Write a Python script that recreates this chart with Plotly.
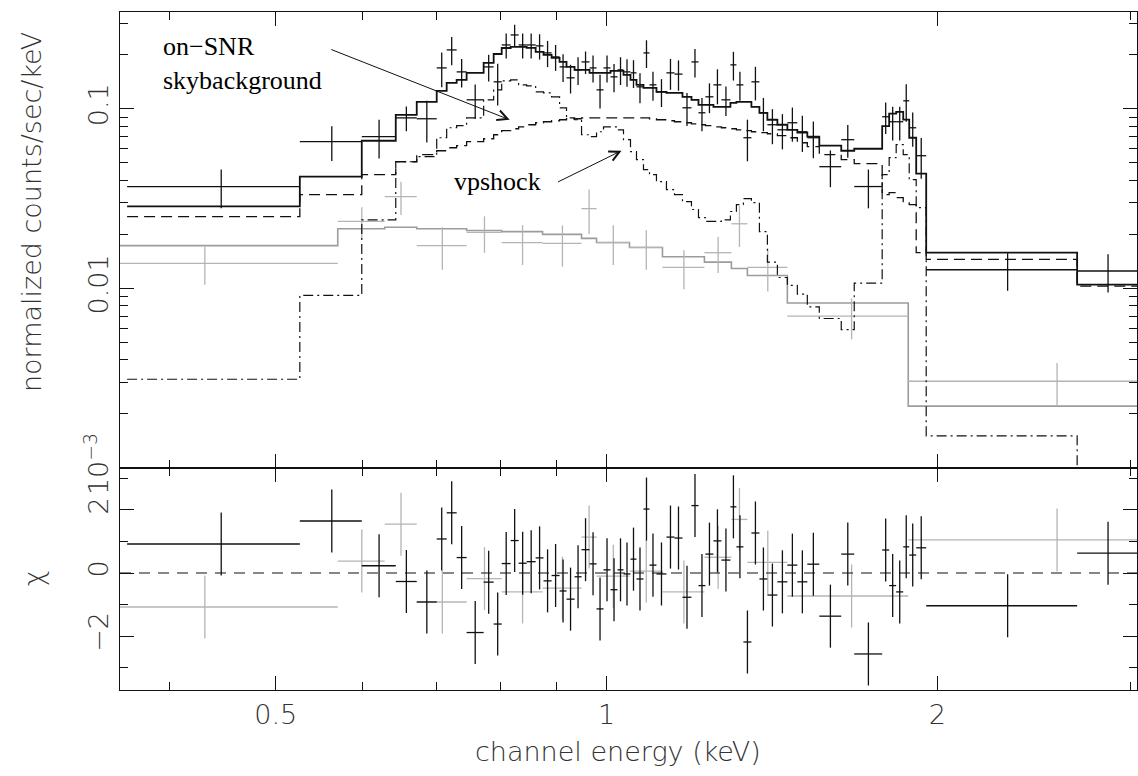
import plotly.graph_objects as go
import numpy as np

# ---------------- data ----------------
# on-SNR spectrum (black): bin edges in keV
black_edges = [0.3662, 0.5259, 0.5988, 0.6430, 0.6719, 0.7006, 0.7154, 0.7305, 0.7459, 0.7730,
               0.7894, 0.8028, 0.8180, 0.8318, 0.8459, 0.8620, 0.8763, 0.8913, 0.9063, 0.9196,
               0.9352, 0.9490, 0.9650, 0.9793, 0.9937, 1.0084, 1.0233, 1.0362, 1.0515, 1.0648,
               1.0805, 1.0942, 1.1103, 1.1338, 1.1530, 1.1725, 1.1948, 1.2125, 1.2303, 1.2511,
               1.2722, 1.2964, 1.3128, 1.3322, 1.3547, 1.3776, 1.4008, 1.4305, 1.4607, 1.4916,
               1.5231, 1.5618, 1.6353, 1.6804, 1.7817, 1.8080, 1.8348, 1.8621, 1.8856, 1.9134,
               1.9539, 2.6808, 3.0395]
black_counts = [0.0369, 0.0656, 0.0699, 0.0890, 0.0880, 0.1689, 0.2127, 0.1605, 0.1122, 0.1711,
                0.1413, 0.2267, 0.2577, 0.2267, 0.2267, 0.2240, 0.2047, 0.1945, 0.1711, 0.1487,
                0.1647, 0.1824, 0.1689, 0.1275, 0.1689, 0.1506, 0.1647, 0.1605, 0.1585, 0.1325,
                0.2047, 0.1359, 0.1243, 0.1585, 0.1560, 0.1013, 0.1824, 0.0950, 0.1166, 0.1359,
                0.1122, 0.1756, 0.1359, 0.0690, 0.1413, 0.0950, 0.0815, 0.0764, 0.0836, 0.0745,
                0.0690, 0.0476, 0.0673, 0.0369, 0.0903, 0.0847, 0.0847, 0.1108, 0.0784, 0.0548,
                0.0127, 0.0125]
black_err = [0.009, 0.0144, 0.017, 0.014, 0.023, 0.037, 0.038, 0.029, 0.0245, 0.029,
             0.037, 0.036, 0.036, 0.036, 0.036, 0.036, 0.034, 0.032, 0.030, 0.027,
             0.029, 0.026, 0.029, 0.027, 0.029, 0.027, 0.029, 0.028, 0.028, 0.025,
             0.036, 0.025, 0.022, 0.031, 0.030, 0.021, 0.033, 0.020, 0.022, 0.030,
             0.021, 0.032, 0.025, 0.018, 0.030, 0.020, 0.018, 0.017, 0.018, 0.017,
             0.016, 0.011, 0.014, 0.009, 0.018, 0.018, 0.018, 0.026, 0.017, 0.014,
             0.003, 0.003]
model_total = [0.0286, 0.0419, 0.0664, 0.0926, 0.1094, 0.1259, 0.1395, 0.1449, 0.1585, 0.1800,
               0.2019, 0.2180, 0.2211, 0.2211, 0.2183, 0.2073, 0.1995, 0.1922, 0.1824, 0.1711,
               0.1647, 0.1647, 0.1585, 0.1585, 0.1585, 0.1626, 0.1626, 0.1545, 0.1449, 0.1359,
               0.1308, 0.1308, 0.1243, 0.1227, 0.1227, 0.1166, 0.1122, 0.1052, 0.1052, 0.1026,
               0.1026, 0.1080, 0.1094, 0.1094, 0.1026, 0.0950, 0.0869, 0.0815, 0.0764, 0.0736,
               0.0699, 0.0623, 0.0584, 0.0599, 0.0800, 0.0940, 0.0962, 0.0870, 0.0690, 0.0436,
               0.0158, 0.0105]
model_skybkg = [0.0251, 0.0333, 0.0430, 0.0507, 0.0555, 0.0584, 0.0607, 0.0623, 0.0656, 0.0681,
                0.0717, 0.0755, 0.0774, 0.0794, 0.0815, 0.0836, 0.0847, 0.0858, 0.0869, 0.0880,
                0.0880, 0.0891, 0.0891, 0.0891, 0.0891, 0.0891, 0.0891, 0.0891, 0.0891, 0.0891,
                0.0891, 0.0880, 0.0869, 0.0858, 0.0847, 0.0836, 0.0825, 0.0815, 0.0805, 0.0794,
                0.0784, 0.0774, 0.0764, 0.0755, 0.0745, 0.0736, 0.0726, 0.0708, 0.0690, 0.0647,
                0.0615, 0.0555, 0.0521, 0.0495, 0.0333, 0.0341, 0.0320, 0.0304, 0.0293, 0.0158,
                0.0145, 0.0103]
model_vpshock = [0.00312, 0.00914, 0.0241, 0.0507, 0.0541, 0.0690, 0.0784, 0.0805, 0.0891, 0.1122,
                 0.1275, 0.1430, 0.1449, 0.1359, 0.1342, 0.1243, 0.1227, 0.1166, 0.1013, 0.0891,
                 0.0869, 0.0717, 0.0699, 0.0745, 0.0794, 0.0794, 0.0764, 0.0673, 0.0577, 0.0521,
                 0.0459, 0.0430, 0.0393, 0.0355, 0.0333, 0.0304, 0.0275, 0.0248, 0.0236, 0.0236,
                 0.0241, 0.0268, 0.0293, 0.0316, 0.0300, 0.0207, 0.0140, 0.0115, 0.0104, 0.0093,
                 0.0079, 0.0068, 0.0059, 0.0107, 0.0430, 0.0534, 0.0631, 0.0555, 0.0403, 0.0282,
                 0.00151, 0.0008]
black_chi = [0.92, 1.65, 0.23, -0.27, -0.92, 1.08, 1.91, 0.49, -1.89, -0.29,
             -1.62, 0.30, 1.03, 0.31, 0.36, 0.48, -0.25, -0.08, -0.57, -0.83,
             -0.12, 0.74, 0.29, -1.14, 0.10, -0.53, 0.10, -0.03, 0.44, -0.19,
             2.03, 0.25, -0.03, 1.14, 1.11, -0.77, 2.14, -0.40, 0.60, 1.02,
             0.41, 2.10, 0.83, -2.19, 1.27, -0.19, -0.70, -0.28, 0.25, -0.28,
             0.28, -1.37, 0.60, -2.57, 0.73, -0.40, -0.60, 0.83, 0.57, 0.80,
             -1.04, 0.63]

# second spectrum (grey)
grey_edges = [0.2926, 0.5694, 0.6283, 0.6719, 0.7459, 0.8028, 0.8746, 0.9490, 0.9793, 1.0493,
              1.1244, 1.2277, 1.2991, 1.3433, 1.4607, 1.8817, 3.259]
grey_counts = [0.01377, 0.0236, 0.0324, 0.0173, 0.0205, 0.0180, 0.0178, 0.0278, 0.0180, 0.0169,
               0.0131, 0.0158, 0.0229, 0.0131, 0.0070, 0.00304]
grey_err = [0.0033, 0.0047, 0.0068, 0.0046, 0.0047, 0.0045, 0.0046, 0.0077, 0.0045, 0.0042,
            0.0032, 0.0036, 0.0059, 0.0035, 0.0018, 0.0008]
grey_model = [0.0173, 0.0215, 0.0219, 0.0215, 0.0210, 0.0207, 0.0200, 0.0190, 0.0180, 0.0169,
              0.0150, 0.0140, 0.0129, 0.0118, 0.0083, 0.00221]
grey_chi = [-1.08, 0.38, 1.55, -0.92, -0.18, -0.60, -0.48, 1.14, -0.10, 0.06,
            -0.60, 0.50, 1.70, 0.34, -0.73, 1.05]

x_ticks = [0.5, 1, 2]
x_ticklabels = ["0.5", "1", "2"]
x_minor = [0.4, 0.6, 0.7, 0.8, 0.9, 3]
y_ticks = [0.001, 0.01, 0.1]
y_ticklabels = ["10<sup>\u22123</sup>", "0.01", "0.1"]
y_minor = [0.002, 0.003, 0.004, 0.005, 0.006, 0.007, 0.008, 0.009,
           0.02, 0.03, 0.04, 0.05, 0.06, 0.07, 0.08, 0.09, 0.2, 0.3]
chi_ticks = [-2, 0, 2]
chi_ticklabels = ["\u22122", "0", "2"]
chi_minor = [-3, -1, 1, 3]

# ---------------- helpers ----------------
def centers(edges):
    e = np.array(edges)
    lo, hi = e[:-1], e[1:]
    c = (lo + hi) / 2
    return c, hi - c, c - lo

def step_xy(edges, vals):
    return list(edges), list(vals) + [vals[-1]]

BLACK = "#111111"
GREY_D = "#b4b4b4"
GREY_M = "#9c9c9c"

fig = go.Figure()

def add_data(edges, vals, errs, color, xa, ya, width=1.3):
    c, ep, em = centers(edges)
    fig.add_trace(go.Scatter(
        x=c, y=vals, mode="markers", marker=dict(size=0.1, color=color),
        error_x=dict(type="data", symmetric=False, array=ep, arrayminus=em,
                     width=0, thickness=width, color=color),
        error_y=dict(type="data", array=errs, width=0, thickness=width, color=color),
        xaxis=xa, yaxis=ya, showlegend=False, hoverinfo="skip"))

def add_step(edges, vals, color, dash, width, xa, ya):
    sx, sy = step_xy(edges, vals)
    fig.add_trace(go.Scatter(x=sx, y=sy, mode="lines", line=dict(shape="hv", color=color, dash=dash, width=width),
                             xaxis=xa, yaxis=ya, showlegend=False, hoverinfo="skip"))

# top panel: grey first
add_step(grey_edges, grey_model, GREY_M, "solid", 1.6, "x", "y")
add_data(grey_edges, grey_counts, grey_err, GREY_D, "x", "y")
add_step(black_edges, model_vpshock, BLACK, "10px,4px,2px,4px", 1.2, "x", "y")
add_step(black_edges, model_skybkg, BLACK, "11px,6px", 1.3, "x", "y")
add_step(black_edges, model_total, BLACK, "solid", 1.8, "x", "y")
add_data(black_edges, black_counts, black_err, BLACK, "x", "y")

# residuals
add_data(grey_edges, grey_chi, [1] * len(grey_chi), GREY_D, "x2", "y2")
add_data(black_edges, black_chi, [1] * len(black_chi), BLACK, "x2", "y2")
fig.add_hline(y=0, line=dict(color=BLACK, width=1.2, dash="11px,8px"), xref="x2", yref="y2")

split = 222 / 678
x_range = [-0.44273, 0.48273]
tickfont = dict(family="DejaVu Sans", size=27, color="#333333", weight=200)

common_x = dict(type="log", range=x_range, showgrid=False, zeroline=False, showline=True,
                linecolor=BLACK, linewidth=1.2, mirror="ticks", ticks="inside", ticklen=14,
                tickwidth=1.2, tickcolor=BLACK, tickvals=x_ticks, ticktext=x_ticklabels,
                minor=dict(ticks="inside", ticklen=8, tickwidth=1.2, tickcolor=BLACK, tickvals=x_minor),
                tickfont=tickfont)

fig.update_layout(
    width=1138, height=776, margin=dict(l=120, r=1, t=12, b=86),
    paper_bgcolor="white", plot_bgcolor="white",
    xaxis=dict(common_x, anchor="y", showticklabels=False),
    xaxis2=dict(common_x, anchor="y2", matches="x", showticklabels=True),
    yaxis=dict(type="log", range=[-3.0, -0.4611], domain=[split, 1], anchor="x",
               showgrid=False, zeroline=False, showline=True, linecolor=BLACK, linewidth=1.2,
               mirror="ticks", ticks="inside", ticklen=14, tickwidth=1.2, tickcolor=BLACK,
               tickvals=y_ticks, ticktext=y_ticklabels, tickangle=-90, tickfont=tickfont,
               minor=dict(ticks="inside", ticklen=8, tickwidth=1.2, tickcolor=BLACK, tickvals=y_minor)),
    yaxis2=dict(range=[-3.714, 3.333], domain=[0, split], anchor="x2",
                showgrid=False, zeroline=False, showline=True, linecolor=BLACK, linewidth=1.2,
                mirror="ticks", ticks="inside", ticklen=14, tickwidth=1.2, tickcolor=BLACK,
                tickvals=chi_ticks, ticktext=chi_ticklabels, tickangle=-90, tickfont=tickfont,
                minor=dict(ticks="inside", ticklen=8, tickwidth=1.2, tickcolor=BLACK, tickvals=chi_minor)),
)

labfont = dict(family="DejaVu Sans", size=27, color="#333333", weight=200)
serif = dict(family="Liberation Serif", size=26, color="black")
annots = [
    dict(text="normalized counts/sec/keV", xref="paper", yref="paper", x=-0.0874, y=0.705,
         textangle=-90, showarrow=False, font=labfont, xanchor="center", yanchor="middle"),
    dict(text="\u03c7", xref="paper", yref="paper", x=-0.0855, y=0.165,
         textangle=-90, showarrow=False, font=labfont, xanchor="center", yanchor="middle"),
    dict(text="channel energy (keV)", xref="paper", yref="paper", x=0.49, y=-0.0914,
         showarrow=False, font=labfont, xanchor="center", yanchor="middle"),
    dict(text="on\u2212SNR<br>skybackground", xref="x", yref="y", x=-0.40545, y=-0.7494,
         showarrow=False, font=serif, xanchor="left", yanchor="middle", align="left"),
    dict(text="vpshock", xref="x", yref="y", x=-0.14091, y=-1.4056, showarrow=False,
         font=serif, xanchor="left", yanchor="middle"),
    dict(text="", xref="x", yref="y", x=-0.08818, y=-1.0611, axref="x", ayref="y",
         ax=-0.25182, ay=-0.6667, showarrow=True, arrowhead=5, arrowsize=2, arrowwidth=1,
         arrowcolor=BLACK),
    dict(text="", xref="x", yref="y", x=0.01364, y=-1.2333, axref="x", ayref="y",
         ax=-0.04545, ay=-1.4111, showarrow=True, arrowhead=5, arrowsize=2, arrowwidth=1,
         arrowcolor=BLACK),
]
fig.update_layout(annotations=annots)

fig.write_html("out.html", config={"displayModeBar": False},
               post_script="document.body.style.margin='0px';")
